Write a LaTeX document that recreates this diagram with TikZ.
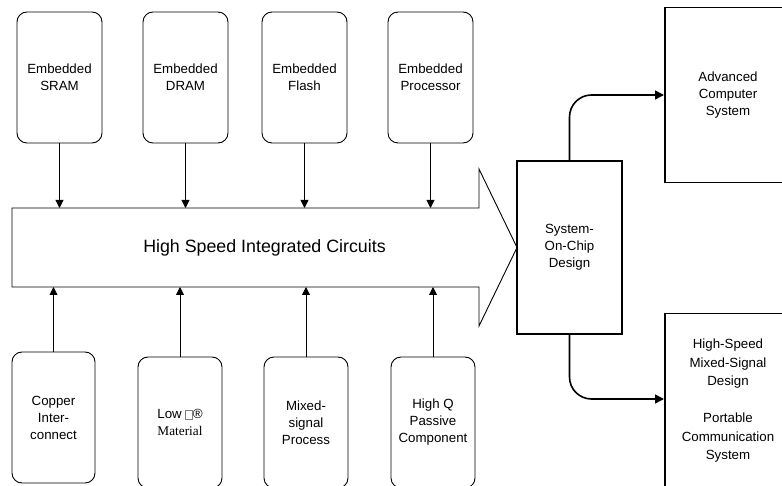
\documentclass[tikz,border=0pt]{standalone}
\usepackage{fontspec}
\setmainfont{Liberation Sans}
\newfontfamily\timesfont{Liberation Serif}
\usetikzlibrary{arrows.meta}
\tikzset{
  rbox/.style={draw, line width=0.9pt, rounded corners=10pt, minimum width=85pt, minimum height=131pt,
    align=center, font=\fontsize{13.3}{17}\selectfont, inner sep=0pt},
  bigbox/.style={draw, line width=1.5pt, align=center, font=\fontsize{13.3}{17}\selectfont, inner sep=0pt},
  thin/.style={line width=0.9pt, -{Triangle[length=8pt,width=8pt]}},
  thick/.style={line width=1.6pt, -{Triangle[length=9pt,width=9pt]}, rounded corners=22pt},
}
\newcommand{\missglyph}{{\color{gray}\fboxsep=0pt\fboxrule=0.4pt\fbox{\rule{0pt}{8pt}\hspace{6.5pt}}}}
\begin{document}
\begin{tikzpicture}[x=1pt,y=-1pt]
\useasboundingbox (0,0) rectangle (782,486);
\clip (0,0) rectangle (782,486);
% top boxes
\node[rbox] (sram) at (59.5,77.5) {Embedded\\SRAM};
\node[rbox] (dram) at (185.5,77.5) {Embedded\\DRAM};
\node[rbox] (flash) at (304.5,77.5) {Embedded\\Flash};
\node[rbox] (proc) at (430.5,77.5) {Embedded\\Processor};
% bottom boxes
\node[rbox, minimum width=83pt] (copper) at (53.5,417.5) {Copper\\Inter-\\connect};
\node[rbox, minimum width=84pt] (lowk) at (180,422.5) {Low\ \missglyph®\\{\timesfont Material}};
\node[rbox, minimum width=84pt] (mixed) at (306,422.5) {Mixed-\\signal\\Process};
\node[rbox, minimum width=84pt] (highq) at (433,422.5) {High Q\\Passive\\Component};
% big arrow
\coordinate (bandtop) at (12,208);
\coordinate (bandbot) at (12,287);
\draw[line width=0.9pt] (12,208) -- (479,208) -- (479,169) -- (517,247.5) -- (479,326) -- (479,287) -- (12,287) -- cycle;
\node[font=\fontsize{17.8}{20}\selectfont] (hsic) at (264.5,247.5) {High Speed Integrated Circuits};
% arrows into band
\draw[thin] (sram) -- (sram |- bandtop);
\draw[thin] (dram) -- (dram |- bandtop);
\draw[thin] (flash) -- (flash |- bandtop);
\draw[thin] (proc) -- (proc |- bandtop);
\draw[thin] (copper) -- (copper |- bandbot);
\draw[thin] (lowk) -- (lowk |- bandbot);
\draw[thin] (mixed) -- (mixed |- bandbot);
\draw[thin] (highq) -- (highq |- bandbot);
% SoC and right boxes
\node[bigbox, minimum width=105pt, minimum height=173pt] (soc) at (569.5,247.5) {System-\\On-Chip\\Design};
\node[bigbox, minimum width=140pt, minimum height=175pt, anchor=north west] (adv) at (664,7) {};
\node[font=\fontsize{13.3}{17}\selectfont, align=center] (advt) at (728,95) {Advanced\\Computer\\System};
\node[bigbox, minimum width=140pt, minimum height=200pt, anchor=north west] (hsm) at (664,313) {};
\node[font=\fontsize{13.3}{18.5}\selectfont, align=center] (hsmt) at (728,401) {High-Speed\\Mixed-Signal\\Design\\[18.5pt]Portable\\Communication\\System};
\coordinate (advin) at (664,95);
\coordinate (hsmin) at (664,399);
\draw[thick] (soc.north) |- (advin);
\draw[thick] (soc.south) |- (hsmin);
\end{tikzpicture}
\end{document}
